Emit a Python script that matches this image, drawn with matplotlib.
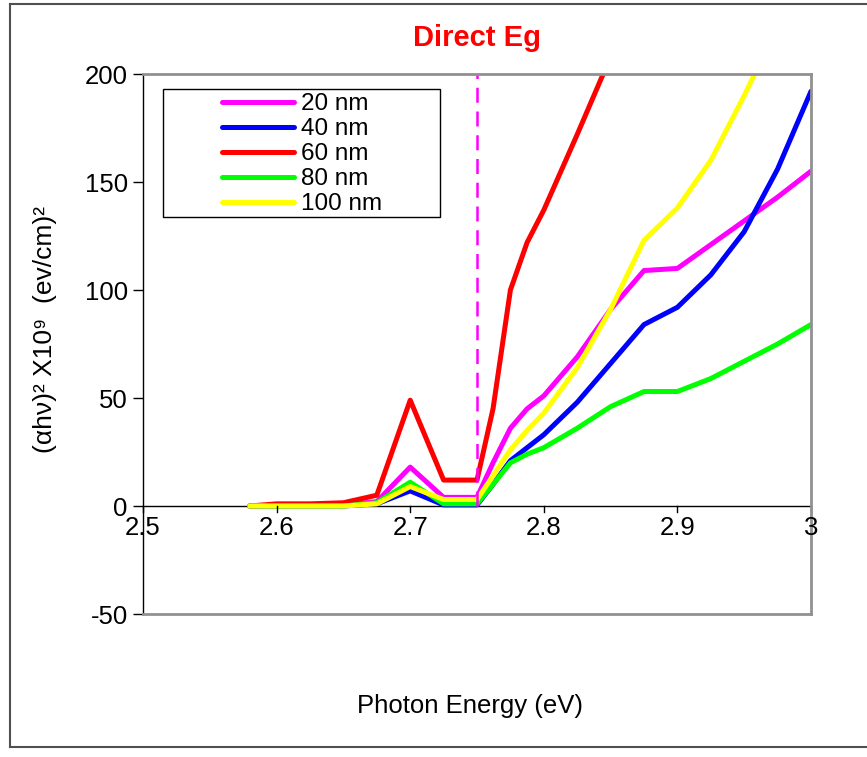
import matplotlib
matplotlib.use('Agg')
import matplotlib.pyplot as plt
from matplotlib.lines import Line2D
from matplotlib.patches import Rectangle

plt.rcParams['font.family'] = ['Liberation Sans', 'DejaVu Sans']
plt.rcParams['axes.unicode_minus'] = False

# ─── Data ─────────────────────────────────────────────────────────────────────
energy = [2.58, 2.6, 2.625, 2.65, 2.675, 2.7, 2.725, 2.75, 2.762, 2.775,
          2.7875, 2.8, 2.825, 2.85, 2.875, 2.9, 2.925, 2.95, 2.975, 3.0]

nm20 = [0, 0.2, 0.3, 0.5, 2, 18, 4, 4, 20, 36,
        45, 51, 69, 91, 109, 110, 121, 132, 143, 155]
nm40 = [0, 0, 0, 0, 1, 7, 0.5, 0.5, 10, 21,
        27, 33, 48, 66, 84, 92, 107, 127, 156, 192]
nm60 = [0, 1, 1, 1.5, 5, 49, 12, 12, 45, 100,
        122, 137, 172, 208, 245, 280, 315, 350, 385, 420]
nm80 = [0, 0, 0, 0, 1.5, 11, 1, 1, 10, 20,
        24, 27, 36, 46, 53, 53, 59, 67, 75, 84]
nm100 = [0, 0, 0, 0, 1, 9, 3, 3, 14, 26,
         35, 43, 64, 91, 123, 138, 160, 190, 222, 255]

labels = ['20 nm', '40 nm', '60 nm', '80 nm', '100 nm']
series = [nm20, nm40, nm60, nm80, nm100]
colors = ['#ff00ff', '#0000ff', '#ff0000', '#00ff00', '#ffff00']

edge_x = 2.75
x_ticks = [2.5, 2.6, 2.7, 2.8, 2.9, 3.0]
x_ticklabels = ['2.5', '2.6', '2.7', '2.8', '2.9', '3']
y_ticks = [-50, 0, 50, 100, 150, 200]

# ─── Figure ───────────────────────────────────────────────────────────────────
W, H = 867, 757
fig = plt.figure(figsize=(W / 100, H / 100), dpi=100)
ax = fig.add_axes([143 / W, 1 - 614 / H, (811 - 143) / W, (614 - 74) / H])

for y, c in zip(series, colors):
    ax.plot(energy, y, color=c, lw=3.6, solid_joinstyle='round',
            solid_capstyle='round', clip_on=True)

ax.plot([edge_x, edge_x], [0, 200], color='#ff00ff', lw=1.8,
        linestyle=(0, (6, 3.5)))

ax.set_xlim(2.5, 3.0)
ax.set_ylim(-50, 200)

# spines: left black, rest gray; x axis drawn at y=0
for s in ['top', 'right', 'bottom']:
    ax.spines[s].set_color('#909090')
    ax.spines[s].set_linewidth(2)
ax.spines['left'].set_color('black')
ax.spines['left'].set_linewidth(1)
ax.axhline(0, color='black', lw=1, zorder=1)

ax.set_yticks(y_ticks)
ax.tick_params(axis='y', direction='out', length=7, width=1, labelsize=18.5,
               pad=4)
ax.set_xticks([])
for xt, lab in zip(x_ticks, x_ticklabels):
    ax.plot([xt, xt], [0, -2.8], color='black', lw=1, clip_on=False)
    ax.text(xt, -4.5, lab, ha='center', va='top', fontsize=18.5)

ax.set_title('Direct Eg', color='red', fontweight='bold', fontsize=21,
             pad=20)
fig.text(470 / W, 1 - 706 / H, 'Photon Energy (eV)', ha='center',
         va='center', fontsize=18.5)
fig.text(45 / W, 1 - 330 / H, '(αhν)² X10⁹  (ev/cm)²', rotation=90,
         ha='center', va='center', fontsize=19)

# legend: box drawn separately, entries offset inside like the original
ax.add_patch(Rectangle(((163 - 143) / 668, 1 - (217 - 74) / 540),
                       (440 - 163) / 668, (217 - 89) / 540,
                       transform=ax.transAxes, facecolor='white',
                       edgecolor='black', lw=1, zorder=4))
handles = [Line2D([], [], color=c, lw=3.6, solid_capstyle='round')
           for c in colors]
leg = ax.legend(handles, labels, loc='upper left',
                bbox_to_anchor=((222 - 143) / 668, 1 - (93 - 74) / 540),
                fontsize=17.5, frameon=False, borderpad=0.0,
                labelspacing=0.125, handlelength=2.95,
                handletextpad=0.3, borderaxespad=0)
leg.set_zorder(5)

# outer chart frame
fc = '#505050'
fig.add_artist(Line2D([10 / W, 10 / W], [1 - 4 / H, 1 - 747 / H],
                      color=fc, lw=1.5, transform=fig.transFigure))
fig.add_artist(Line2D([10 / W, 1], [1 - 4 / H, 1 - 4 / H],
                      color=fc, lw=1.5, transform=fig.transFigure))
fig.add_artist(Line2D([10 / W, 1], [1 - 747 / H, 1 - 747 / H],
                      color=fc, lw=1.5, transform=fig.transFigure))

fig.savefig('out.png', dpi=100)
